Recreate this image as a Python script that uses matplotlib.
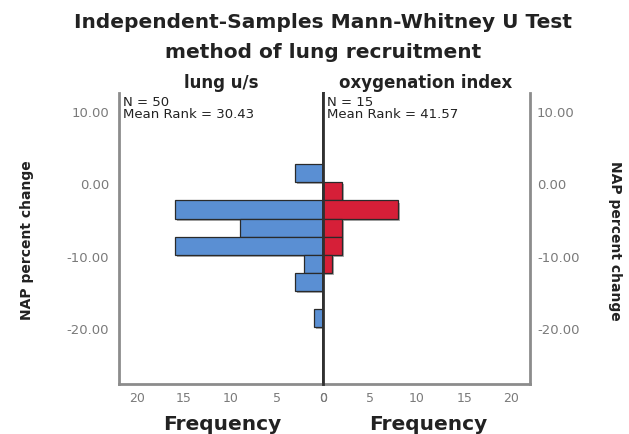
import numpy as np
import matplotlib.pyplot as plt
import matplotlib.patheffects as pe

# intervalos de NAP percent change (borde inferior), ancho 2.5
bordes_inf = [0.25, -2.25, -4.75, -7.25, -9.75, -12.25, -14.75, -17.25, -19.75]
ancho = 2.5
frec_lung = [3, 0, 16, 9, 16, 2, 3, 0, 1]
frec_oxig = [0, 2, 8, 2, 2, 1, 0, 0, 0]

grupos = ['lung u/s', 'oxygenation index']
textos_n = ['N = 50\nMean Rank = 30.43', 'N = 15\nMean Rank = 41.57']
y_ticks = [10, 0, -10, -20]
y_labels = ['10.00', '0.00', '-10.00', '-20.00']
x_ticks = [0, 5, 10, 15, 20]

azul = '#5a8fd3'
rojo = '#d61f38'
gris = '#8c8c8c'

W, H = 629, 434
plt.rcParams['font.family'] = ['DejaVu Sans']
fig = plt.figure(figsize=(W / 100, H / 100), dpi=100)


def caja(x0, y0, x1, y1):
    '''pixeles (desde arriba a la izquierda) a coordenadas de figura'''
    return [x0 / W, 1 - y1 / H, (x1 - x0) / W, (y1 - y0) / H]


ax_izq = fig.add_axes(caja(119, 93, 323, 384))
ax_der = fig.add_axes(caja(323, 93, 530, 384))

sombra = [pe.SimplePatchShadow(offset=(1.5, -1.5), shadow_rgbFace='#777777', alpha=0.6),
          pe.Normal()]

for ax, frec, color in [(ax_izq, frec_lung, azul), (ax_der, frec_oxig, rojo)]:
    y = [b for b, f in zip(bordes_inf, frec) if f > 0]
    w = [f for f in frec if f > 0]
    barras = ax.barh(y, w, height=ancho, align='edge', color=color,
                     edgecolor='#2a2a2a', linewidth=0.9, zorder=3)
    for b in barras:
        b.set_path_effects(sombra)
    ax.set_ylim(-27.6, 12.6)
    ax.set_yticks(y_ticks)
    ax.set_xticks(x_ticks)
    ax.spines['top'].set_visible(False)
    for s in ['left', 'right', 'bottom']:
        ax.spines[s].set_color(gris)
        ax.spines[s].set_linewidth(2)
    ax.tick_params(length=0, labelsize=9, labelcolor='#7a7a7a')

ax_izq.set_xlim(22, 0)
ax_der.set_xlim(0, 22)

ax_izq.set_yticklabels(y_labels)
ax_izq.tick_params(axis='y', pad=7, labelsize=9.5)
ax_izq.spines['right'].set_color('#303030')
ax_izq.spines['right'].set_zorder(5)

ax_der.spines['left'].set_color('#303030')
ax_der.spines['left'].set_zorder(5)
ax_der.yaxis.tick_right()
ax_der.set_yticklabels(y_labels)
ax_der.tick_params(axis='y', pad=5, labelsize=9.5)

for ax in [ax_izq, ax_der]:
    ax.tick_params(axis='x', pad=6)

# textos
negro = '#222222'
fig.text(323 / W, 1 - 23 / H, 'Independent-Samples Mann-Whitney U Test',
         ha='center', va='center', fontsize=14.5, fontweight='bold', color=negro)
fig.text(323 / W, 1 - 52 / H, 'method of lung recruitment',
         ha='center', va='center', fontsize=14.5, fontweight='bold', color=negro)
fig.text(221 / W, 1 - 83 / H, grupos[0], ha='center', va='center',
         fontsize=12, fontweight='bold', color=negro)
fig.text(426 / W, 1 - 83 / H, grupos[1], ha='center', va='center',
         fontsize=12, fontweight='bold', color=negro)
fig.text(123 / W, 1 - 96 / H, textos_n[0], ha='left', va='top',
         fontsize=9.5, linespacing=0.9, color=negro)
fig.text(327 / W, 1 - 96 / H, textos_n[1], ha='left', va='top',
         fontsize=9.5, linespacing=0.9, color=negro)
fig.text(222 / W, 1 - 425 / H, 'Frequency', ha='center', va='center',
         fontsize=14.5, fontweight='bold', color=negro)
fig.text(428 / W, 1 - 425 / H, 'Frequency', ha='center', va='center',
         fontsize=14.5, fontweight='bold', color=negro)
fig.text(27 / W, 1 - 240 / H, 'NAP percent change', ha='center', va='center',
         rotation=90, fontsize=10, fontweight='bold', color=negro)
fig.text(615 / W, 1 - 241 / H, 'NAP percent change', ha='center', va='center',
         rotation=270, fontsize=10, fontweight='bold', color=negro)

fig.savefig('out.png', dpi=100)
